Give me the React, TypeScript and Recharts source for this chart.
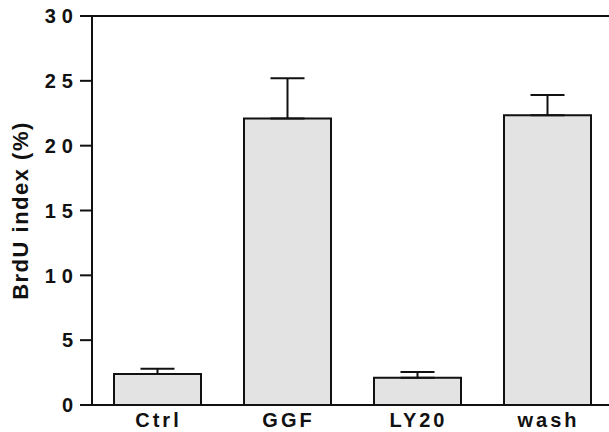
import React from "react";
import {
  Bar,
  BarChart,
  ErrorBar,
  Label,
  ReferenceLine,
  XAxis,
  YAxis,
} from "recharts";

const groups = ["Ctrl", "GGF", "LY20", "wash"];
const brduIndex = [2.4, 22.1, 2.1, 22.35];
const upperError = [0.4, 3.1, 0.45, 1.55];
const yTicks = [0, 5, 10, 15, 20, 25, 30];

const data = groups.map((g, i) => ({
  name: g,
  value: brduIndex[i],
  err: [0, upperError[i]],
}));

const FONT = "'Liberation Sans', Arial, Helvetica, sans-serif";

function YTick({ x, y, payload }: any) {
  return (
    <text
      x={x + 1}
      y={y}
      dy="0.36em"
      textAnchor="end"
      fontFamily={FONT}
      fontWeight="bold"
      fontSize={20}
      letterSpacing={6}
      fill="#111"
    >
      {payload.value}
    </text>
  );
}

function XTick({ x, y, payload }: any) {
  return (
    <text
      x={x + 1.5}
      y={y}
      dy={14}
      textAnchor="middle"
      fontFamily={FONT}
      fontWeight="bold"
      fontSize={20}
      letterSpacing={3}
      fill="#111"
    >
      {payload.value}
    </text>
  );
}

export default function App() {
  return (
    <div
      style={{
        position: "absolute",
        left: 0,
        top: 0,
        width: 609,
        height: 432,
        overflow: "hidden",
        background: "#fff",
      }}
    >
      <BarChart
        width={612}
        height={432}
        data={data}
        margin={{ top: 16, right: 0, left: 0, bottom: 0 }}
        barSize={87}
      >
        <XAxis
          dataKey="name"
          height={27}
          tickLine={false}
          axisLine={{ stroke: "#111", strokeWidth: 2 }}
          tick={<XTick />}
          interval={0}
        />
        <YAxis
          width={92}
          domain={[0, 30]}
          ticks={yTicks}
          interval={0}
          tickSize={12}
          tickLine={{ stroke: "#111", strokeWidth: 2 }}
          axisLine={{ stroke: "#111", strokeWidth: 2 }}
          tick={<YTick />}
        >
          <Label
            content={({ viewBox }: any) => {
              const cx = 20;
              const cy = viewBox.y + viewBox.height / 2;
              return (
                <text
                  x={cx}
                  y={cy}
                  transform={`rotate(-90 ${cx} ${cy})`}
                  textAnchor="middle"
                  dominantBaseline="central"
                  fontFamily={FONT}
                  fontWeight="bold"
                  fontSize={22}
                  letterSpacing={1.5}
                  fill="#111"
                >
                  BrdU index (%)
                </text>
              );
            }}
          />
        </YAxis>
        <ReferenceLine y={30} stroke="#111" strokeWidth={2} />
        <Bar
          dataKey="value"
          fill="#e3e3e3"
          stroke="#111"
          strokeWidth={2}
          isAnimationActive={false}
        >
          <ErrorBar
            dataKey="err"
            direction="y"
            width={17}
            stroke="#111"
            strokeWidth={2}
            isAnimationActive={false}
          />
        </Bar>
      </BarChart>
    </div>
  );
}
